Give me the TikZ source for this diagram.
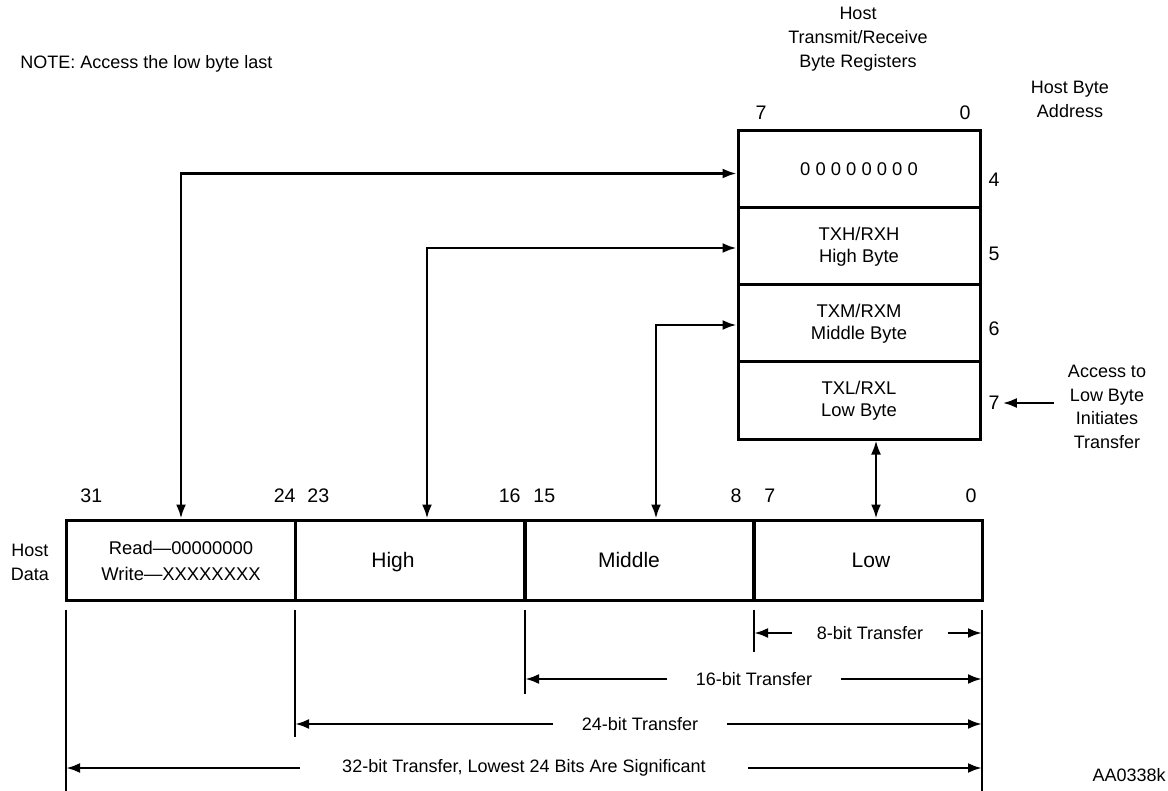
\documentclass[tikz,border=0pt]{standalone}
\usepackage{fontspec}
\setmainfont{Liberation Sans}
\usetikzlibrary{arrows.meta}
\begin{document}
\begin{tikzpicture}[x=0.5pt,y=-0.5pt,
  font=\fontsize{9}{12}\selectfont,
  every node/.style={inner sep=0pt},
  reg/.style={draw, line width=1.5pt, minimum width=121pt, minimum height=38.5pt, align=center, font=\fontsize{9.2}{11}\selectfont},
  cell/.style={draw, line width=1.5pt, minimum width=114.5pt, minimum height=40pt},
  dbl/.style={line width=1.2pt, {Latex[length=7pt,width=5pt]}-{Latex[length=7pt,width=5pt]}},
  arr/.style={line width=1.2pt, -{Latex[length=7pt,width=5pt]}},
  tick/.style={line width=0.8pt},
  tr/.style={line width=1.3pt, -{Latex[length=7pt,width=5pt]}},
  lbl/.style={align=center},
  num/.style={font=\fontsize{9.8}{12}\selectfont},
  big/.style={font=\fontsize{10.5}{12}\selectfont}
]
\useasboundingbox (0,0) rectangle (1168,791);

% title texts
\node[anchor=west] (note) at (20,64) {NOTE: Access the low byte last};
\node[lbl] (title) at (858,39) {Host\\Transmit/Receive\\Byte Registers};
\node[lbl] (hba) at (1070,99) {Host Byte\\Address};
\node[num] (rt7) at (761,113) {7};
\node[num] (rt0) at (965,113) {0};

% register rows
\node[reg] (r4) at (859,169.5) {0 0 0 0 0 0 0 0};
\node[reg] (r5) at (859,246.5) {TXH/RXH\\High Byte};
\node[reg] (r6) at (859,323.5) {TXM/RXM\\Middle Byte};
\node[reg] (r7) at (859,400.5) {TXL/RXL\\Low Byte};

% addresses
\node[num] (a4) at (994,180) {4};
\node[num] (a5) at (994,254) {5};
\node[num] (a6) at (994,329) {6};
\node[num] (a7) at (994,403) {7};
\node[lbl,font=\fontsize{9}{11.75}\selectfont] (acc) at (1107,407) {Access to\\Low Byte\\Initiates\\Transfer};
\coordinate (accs) at (1054,403);
\draw[arr] (accs) -- ([xshift=1.5pt]a7.east);

% host data cells
\node[cell] (c1) at (180.5,560) {};
\node[cell] (c2) at (410,560) {};
\node[cell] (c3) at (639.5,560) {};
\node[cell] (c4) at (868,560) {};
\node[lbl,font=\fontsize{9.2}{13}\selectfont] (t1) at (181,561) {Read—00000000\\Write—XXXXXXXX};
\node[big,anchor=base] (t2) at (393,567) {High};
\node[big,anchor=base] (t3) at (629,567) {Middle};
\node[big,anchor=base] (t4) at (871,567) {Low};
\node[lbl] (hd) at (30,562) {Host\\Data};

% bit numbers
\node[num,anchor=west] (b31) at (80,496) {31};
\node[num,anchor=east] (b24) at (296,496) {24};
\node[num,anchor=west] (b23) at (307,496) {23};
\node[num,anchor=east] (b16) at (521,496) {16};
\node[num,anchor=west] (b15) at (533,496) {15};
\node[num,anchor=east] (b8) at (742,496) {8};
\node[num,anchor=west] (b7) at (764,496) {7};
\node[num,anchor=east] (b0) at (977,496) {0};

% connectors
\draw[dbl] ([yshift=-2pt]r4.west) -| ([xshift=0.25pt]c1.north);
\draw[dbl] ([yshift=-0.75pt]r5.west) -| ([xshift=8.5pt]c2.north);
\draw[dbl] ([yshift=-0.75pt]r6.west) -| ([xshift=8.25pt]c3.north);
\draw[dbl] ([xshift=4pt]c4.north) -- ([xshift=4pt]c4.north |- r7.south);

% transfer extent lines
\coordinate (v0t) at (66,610);  \coordinate (v0b) at (66,791);
\coordinate (v24t) at (295,610); \coordinate (v24b) at (295,737);
\coordinate (v16t) at (525,610); \coordinate (v16b) at (525,694);
\coordinate (v8t) at (754,610);  \coordinate (v8b) at (754,652);
\coordinate (vrt) at (982,610);  \coordinate (vrb) at (982,791);
\draw[tick] (v0t) -- (v0b);
\draw[tick] (v24t) -- (v24b);
\draw[tick] (v16t) -- (v16b);
\draw[tick] (v8t) -- (v8b);
\draw[tick] (vrt) -- (vrb);

\node[inner xsep=12pt] (x8) at (870,633) {8-bit Transfer};
\node[inner xsep=14pt] (x16) at (754,679) {16-bit Transfer};
\node[inner xsep=14pt] (x24) at (640,724) {24-bit Transfer};
\node[inner xsep=21pt] (x32) at (524,768) {32-bit Transfer, Lowest 24 Bits Are Significant};
\draw[tr] (x8.west) -- (x8.west -| v8t);
\draw[tr] (x8.east) -- (x8.east -| vrt);
\draw[tr] (x16.west) -- (x16.west -| v16t);
\draw[tr] (x16.east) -- (x16.east -| vrt);
\draw[tr] (x24.west) -- (x24.west -| v24t);
\draw[tr] (x24.east) -- (x24.east -| vrt);
\draw[tr] (x32.west) -- (x32.west -| v0t);
\draw[tr] (x32.east) -- (x32.east -| vrt);

\node[anchor=east] (id) at (1166,775) {AA0338k};
\end{tikzpicture}
\end{document}
